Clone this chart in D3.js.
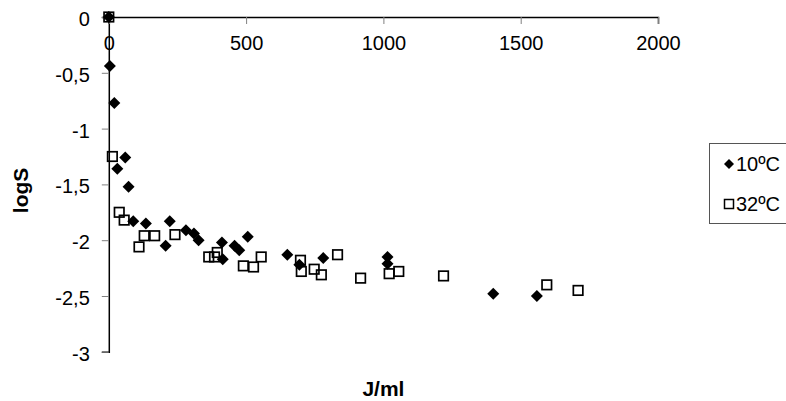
<!DOCTYPE html>
<html><head><meta charset="utf-8">
<script src="https://cdn.jsdelivr.net/npm/d3@7"></script>
<style>body{margin:0;background:#fff}svg{display:block}</style>
</head><body>
<svg id="c" width="786" height="401"></svg>
<script>
const series10Name = "10ºC";
const series32Name = "32ºC";
const s10x = [0, 4, 20, 31, 60, 72, 89, 135, 207, 222, 281, 310, 327, 412, 415, 458, 475, 506, 650, 694, 781, 1015, 1015, 1400, 1559];
const s10y = [0, -0.44, -0.77, -1.36, -1.26, -1.52, -1.83, -1.85, -2.05, -1.83, -1.91, -1.94, -2.00, -2.02, -2.17, -2.05, -2.09, -1.97, -2.13, -2.22, -2.16, -2.15, -2.21, -2.48, -2.50];
const s32x = [0, 13, 38, 56, 110, 129, 167, 241, 364, 385, 395, 490, 527, 555, 698, 701, 748, 774, 833, 917, 1021, 1056, 1219, 1595, 1709];
const s32y = [0, -1.25, -1.75, -1.82, -2.06, -1.96, -1.96, -1.95, -2.15, -2.15, -2.11, -2.23, -2.24, -2.15, -2.18, -2.28, -2.26, -2.31, -2.13, -2.34, -2.30, -2.28, -2.32, -2.40, -2.45];
const xTicks = [0, 500, 1000, 1500, 2000];
const yTicks = [0, -0.5, -1, -1.5, -2, -2.5, -3];
const xTitle = "J/ml";
const yTitle = "logS";

const svg = d3.select("#c");
const font = "'Liberation Sans', Arial, sans-serif";
const x = d3.scaleLinear().domain([0, 2000]).range([108.8, 658]);
const y = d3.scaleLinear().domain([-3, 0]).range([351.8, 17]);

// Y axis
const yAxis = d3.axisLeft(y).tickValues(yTicks).tickSizeOuter(0).tickSize(7).tickPadding(12)
  .tickFormat(d => String(d).replace(".", ","));
const gy = svg.append("g").attr("transform", `translate(${x(0)},0)`).call(yAxis);
gy.select(".domain").attr("stroke", "#000").attr("stroke-width", 1.5);
gy.selectAll(".tick line").attr("stroke", "#808080");
gy.selectAll(".tick text").attr("font-family", font).attr("font-size", 20).attr("fill", "#000").attr("dy", "0.42em");

// X axis (at y=0, top)
const xAxis = d3.axisBottom(x).tickValues(xTicks).tickSizeOuter(0).tickSize(7).tickPadding(12).tickFormat(d3.format("d"));
const gx = svg.append("g").attr("transform", `translate(0,${y(0)})`).call(xAxis);
gx.select(".domain").attr("stroke", "#000").attr("stroke-width", 1.5);
gx.selectAll(".tick line").attr("stroke", "#808080");
gx.selectAll(".tick text").attr("font-family", font).attr("font-size", 20).attr("fill", "#000");

// Titles
svg.append("text").attr("x", (x(0) + x(2000)) / 2).attr("y", 396).attr("text-anchor", "middle")
  .attr("font-family", font).attr("font-weight", "bold").attr("font-size", 21).text(xTitle);
svg.append("text").attr("transform", `translate(28,${(y(0) + y(-3)) / 2 + 6}) rotate(-90)`).attr("text-anchor", "middle")
  .attr("font-family", font).attr("font-weight", "bold").attr("font-size", 21).text(yTitle);

// Data
const d10 = s10x.map((v, i) => [v, s10y[i]]);
const d32 = s32x.map((v, i) => [v, s32y[i]]);
const sq = 9.5;
svg.append("g").selectAll("rect").data(d32).join("rect")
  .attr("x", d => x(d[0]) - sq / 2).attr("y", d => y(d[1]) - sq / 2)
  .attr("width", sq).attr("height", sq).attr("fill", "none").attr("stroke", "#000").attr("stroke-width", 1.7);
const diamond = "M0,-6L6,0L0,6L-6,0Z";
svg.append("g").selectAll("path").data(d10).join("path")
  .attr("transform", d => `translate(${x(d[0])},${y(d[1])})`).attr("d", diamond).attr("fill", "#000");

// Legend
const lg = svg.append("g");
lg.append("rect").attr("x", 709.5).attr("y", 143.5).attr("width", 100).attr("height", 80)
  .attr("fill", "#fff").attr("stroke", "#555").attr("stroke-width", 1);
lg.append("path").attr("transform", "translate(729,164)").attr("d", "M0,-5L5,0L0,5L-5,0Z").attr("fill", "#000");
lg.append("text").attr("x", 736).attr("y", 171).attr("font-family", font).attr("font-size", 20).text(series10Name);
lg.append("rect").attr("x", 724.5).attr("y", 199.5).attr("width", 9).attr("height", 9)
  .attr("fill", "none").attr("stroke", "#000").attr("stroke-width", 1.5);
lg.append("text").attr("x", 736).attr("y", 211).attr("font-family", font).attr("font-size", 20).text(series32Name);
</script>
</body></html>
